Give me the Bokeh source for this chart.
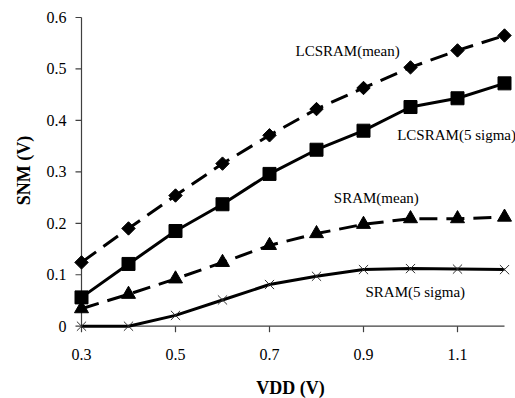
import math
from bokeh.plotting import figure
from bokeh.models import Range1d, Label
from bokeh.core.properties import value
from bokeh.embed import file_html
from bokeh.resources import INLINE

# Supply voltage (V)
vdd = [0.3, 0.4, 0.5, 0.6, 0.7, 0.8, 0.9, 1.0, 1.1, 1.2]

# Static noise margin (V) for each cell type
lcsram_mean = [0.124, 0.190, 0.254, 0.316, 0.371, 0.422, 0.463, 0.503, 0.536, 0.565]
lcsram_5sigma = [0.056, 0.121, 0.185, 0.237, 0.296, 0.343, 0.380, 0.426, 0.443, 0.472]
sram_mean = [0.034, 0.062, 0.092, 0.124, 0.157, 0.180, 0.198, 0.209, 0.209, 0.212]
sram_5sigma = [0.000, 0.000, 0.021, 0.051, 0.081, 0.097, 0.110, 0.112, 0.111, 0.110]

series_names = ["LCSRAM(mean)", "LCSRAM(5 sigma)", "SRAM(mean)", "SRAM(5 sigma)"]

x_ticks = [0.3, 0.5, 0.7, 0.9, 1.1]
x_tick_labels = ["0.3", "0.5", "0.7", "0.9", "1.1"]
y_ticks = [0.0, 0.1, 0.2, 0.3, 0.4, 0.5, 0.6]
y_tick_labels = ["0", "0.1", "0.2", "0.3", "0.4", "0.5", "0.6"]

W, H = 515, 398
# Plot area in pixels: where the axes meet and where they end
X0_PX, X1_PX = 81.0, 504.0
Y0_PX, Y1_PX = 325.7, 17.0

x_lo, x_hi = vdd[0], vdd[-1]
y_lo, y_hi = y_ticks[0], y_ticks[-1]
sx = (X1_PX - X0_PX) / (x_hi - x_lo)   # px per volt (x)
sy = (Y0_PX - Y1_PX) / (y_hi - y_lo)   # px per volt (y)


def px_x(px):
    return x_lo + (px - X0_PX) / sx


def px_y(py):
    return y_lo + (Y0_PX - py) / sy


SERIF = "Liberation Serif"
INK = "#000000"
AXIS = "#404040"

# The frame covers the whole canvas so markers on the axes are not cut off;
# the axes are drawn as glyphs in data space.
p = figure(
    width=W, height=H,
    x_range=Range1d(px_x(0), px_x(W)),
    y_range=Range1d(px_y(H), px_y(0)),
    x_axis_location=None, y_axis_location=None,
    toolbar_location=None, output_backend="svg",
    min_border=0,
)
p.outline_line_color = None
p.grid.visible = False
p.background_fill_color = "white"
p.border_fill_color = "white"

TICK = 6.0
# axis lines
p.segment(x0=[x_lo, x_lo], y0=[y_lo, y_lo], x1=[x_hi, x_lo], y1=[y_lo, y_hi],
          line_color=AXIS, line_width=1.2)
# tick marks (outward)
p.segment(x0=x_ticks, y0=[y_lo] * len(x_ticks), x1=x_ticks,
          y1=[y_lo - TICK / sy] * len(x_ticks), line_color=AXIS, line_width=1.2)
p.segment(x0=[x_lo] * len(y_ticks), y0=y_ticks, x1=[x_lo - TICK / sx] * len(y_ticks),
          y1=y_ticks, line_color=AXIS, line_width=1.2)
# tick labels
p.text(x=x_ticks, y=[px_y(353.5)] * len(x_ticks), text=x_tick_labels,
       text_font=value(SERIF), text_font_size="16px", text_color=INK,
       text_align="center", text_baseline="middle")
p.text(x=[px_x(66)] * len(y_ticks), y=y_ticks, text=y_tick_labels,
       text_font=value(SERIF), text_font_size="16px", text_color=INK,
       text_align="right", text_baseline="middle")

# LCSRAM mean: dashed with diamonds
p.line(vdd, lcsram_mean, line_color=INK, line_width=3, line_dash="18 9")
p.scatter(vdd, lcsram_mean, marker="square", angle=math.pi / 4, size=9.5,
          fill_color=INK, line_color=INK)

# LCSRAM 5 sigma: solid with squares
p.line(vdd, lcsram_5sigma, line_color=INK, line_width=3)
p.scatter(vdd, lcsram_5sigma, marker="square", size=13, fill_color=INK, line_color=INK)

# SRAM mean: dashed with triangles
p.line(vdd, sram_mean, line_color=INK, line_width=3, line_dash="18 9")
p.scatter(vdd, sram_mean, marker="triangle", size=14, fill_color=INK, line_color=INK)

# SRAM 5 sigma: solid with crosses
p.line(vdd, sram_5sigma, line_color=INK, line_width=3)
p.scatter(vdd, sram_5sigma, marker="x", size=13, line_color="#333333", line_width=1)

# curve captions (left edge, vertical centre) in pixels
caption_px = [(295, 50), (396.7, 134), (333.3, 197.5), (365, 291.5)]
for name, (cx, cy) in zip(series_names, caption_px):
    p.add_layout(Label(x=px_x(cx), y=px_y(cy), text=name, text_font=SERIF,
                       text_font_size="15px", text_color=INK,
                       text_align="left", text_baseline="middle"))

p.add_layout(Label(x=px_x(290), y=px_y(387.5), text="VDD (V)", text_font=SERIF,
                   text_font_size="18px", text_font_style="bold", text_color=INK,
                   text_align="center", text_baseline="middle"))
p.add_layout(Label(x=px_x(23.5), y=px_y(170), text="SNM (V)", text_font=SERIF,
                   text_font_size="18px", text_font_style="bold", text_color=INK,
                   angle=math.pi / 2, text_align="center", text_baseline="middle"))

open("out.html", "w").write(file_html(p, INLINE))
